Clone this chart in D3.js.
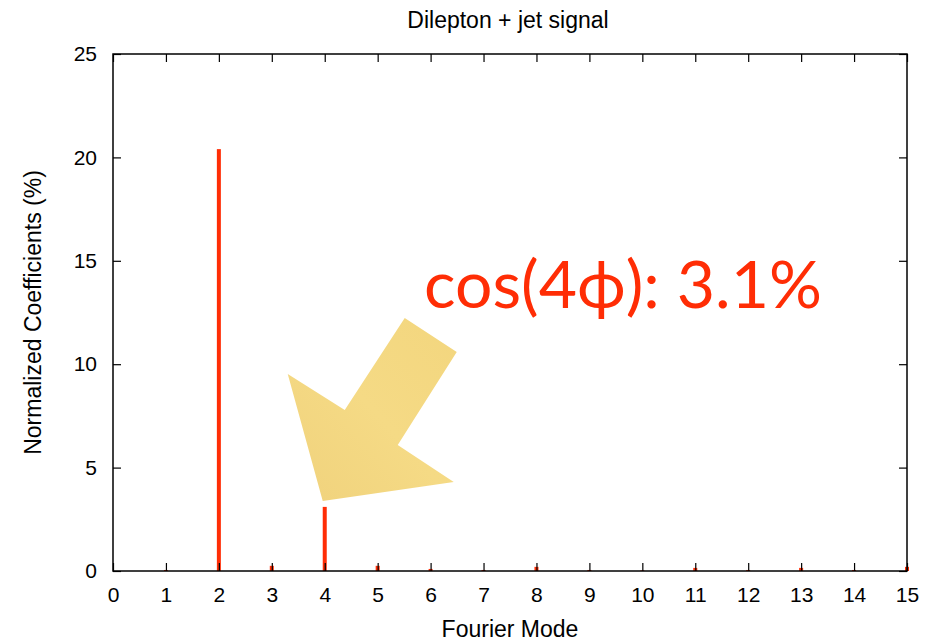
<!DOCTYPE html>
<html>
<head>
<meta charset="utf-8">
<script src="https://cdn.jsdelivr.net/npm/d3@7"></script>
<style>
  html, body { margin: 0; padding: 0; background: #fff; }
  svg { display: block; }
</style>
</head>
<body>
<script>
// Fourier mode spectrum of the dilepton + jet signal
const modes = [0, 1, 2, 3, 4, 5, 6, 7, 8, 9, 10, 11, 12, 13, 14, 15];
const coefficients = [0, 0.05, 20.4, 0.25, 3.1, 0.25, 0.1, 0.05, 0.2, 0.05, 0.03, 0.15, 0.05, 0.15, 0.05, 0.2];
const xTicks = [0, 1, 2, 3, 4, 5, 6, 7, 8, 9, 10, 11, 12, 13, 14, 15];
const yTicks = [0, 5, 10, 15, 20, 25];
const highlightMode = 4;
const highlightValue = coefficients[modes.indexOf(highlightMode)];

const W = 939, H = 644;
const margin = { left: 113, right: 32, top: 54, bottom: 73 };

const svg = d3.select("body").append("svg")
  .attr("width", W).attr("height", H);

const x = d3.scaleLinear().domain([0, 15]).range([margin.left, W - margin.right]);
const y = d3.scaleLinear().domain([0, 25]).range([H - margin.bottom, margin.top]);

const font = "'Liberation Sans', Arial, Helvetica, sans-serif";
const red = "#ff2d05";

// Bars (impulses)
svg.append("g").selectAll("rect")
  .data(modes.map((m, i) => ({ m, v: coefficients[i] })))
  .join("rect")
  .attr("x", d => x(d.m) - 2)
  .attr("width", 4)
  .attr("y", d => y(d.v))
  .attr("height", d => y(0) - y(d.v))
  .attr("fill", red);

// Axes with inward ticks
function styleAxis(g, showLabels) {
  g.select(".domain").remove();
  g.selectAll(".tick line").attr("stroke", "#000").attr("stroke-width", 1.2);
  g.selectAll(".tick text")
    .attr("fill", "#000")
    .style("font-family", font)
    .style("font-size", "21px")
    .style("display", showLabels ? null : "none");
}

svg.append("g")
  .attr("transform", `translate(0,${y(0)})`)
  .call(d3.axisBottom(x).tickValues(xTicks).tickFormat(d3.format("d")).tickSizeInner(-8).tickSizeOuter(0).tickPadding(16))
  .call(g => styleAxis(g, true));

svg.append("g")
  .attr("transform", `translate(0,${y(25)})`)
  .call(d3.axisTop(x).tickValues(xTicks).tickSizeInner(-8).tickSizeOuter(0))
  .call(g => styleAxis(g, false));

svg.append("g")
  .attr("transform", `translate(${x(0)},0)`)
  .call(d3.axisLeft(y).tickValues(yTicks).tickFormat(d3.format("d")).tickSizeInner(-8).tickSizeOuter(0).tickPadding(16))
  .call(g => styleAxis(g, true));

svg.append("g")
  .attr("transform", `translate(${x(15)},0)`)
  .call(d3.axisRight(y).tickValues(yTicks).tickSizeInner(-8).tickSizeOuter(0))
  .call(g => styleAxis(g, false));

// Frame
svg.append("rect")
  .attr("x", x(0)).attr("y", y(25))
  .attr("width", x(15) - x(0)).attr("height", y(0) - y(25))
  .attr("fill", "none").attr("stroke", "#000").attr("stroke-width", 1.5);

// Title and axis titles
svg.append("text")
  .attr("x", 508).attr("y", 28)
  .attr("text-anchor", "middle")
  .style("font-family", font).style("font-size", "23px")
  .text("Dilepton + jet signal");

svg.append("text")
  .attr("x", 510).attr("y", 637)
  .attr("text-anchor", "middle")
  .style("font-family", font).style("font-size", "23px")
  .text("Fourier Mode");

svg.append("text")
  .attr("transform", `translate(41,${(y(0) + y(25)) / 2}) rotate(-90)`)
  .attr("text-anchor", "middle")
  .style("font-family", font).style("font-size", "23px")
  .text("Normalized Coefficients (%)");

// Callout arrow pointing at the cos(4phi) bar
const defs = svg.append("defs");
const grad = defs.append("linearGradient").attr("id", "arrowFill")
  .attr("x1", "0%").attr("y1", "100%").attr("x2", "100%").attr("y2", "0%");
grad.append("stop").attr("offset", "0%").attr("stop-color", "#f0d27c");
grad.append("stop").attr("offset", "50%").attr("stop-color", "#f5da85");
grad.append("stop").attr("offset", "100%").attr("stop-color", "#f3d67e");

const tipX = x(highlightMode) - 2, tipY = y(highlightValue) - 6;
const arrowPts = [
  [0, 0], [-35, -127], [22, -91], [82, -183], [134, -149], [75, -56], [131, -19]
].map(([dx, dy]) => [tipX + dx, tipY + dy]);

svg.append("path")
  .attr("d", d3.line()(arrowPts) + "Z")
  .attr("fill", "url(#arrowFill)");

svg.append("text")
  .attr("x", 424).attr("y", 308)
  .attr("fill", red)
  .style("font-family", "Lato, 'Open Sans', 'DejaVu Sans', sans-serif")
  .style("font-size", "65px")
  .attr("textLength", 398)
  .attr("lengthAdjust", "spacingAndGlyphs")
  .text(`cos(${highlightMode}ϕ): ${highlightValue}%`);
</script>
</body>
</html>
